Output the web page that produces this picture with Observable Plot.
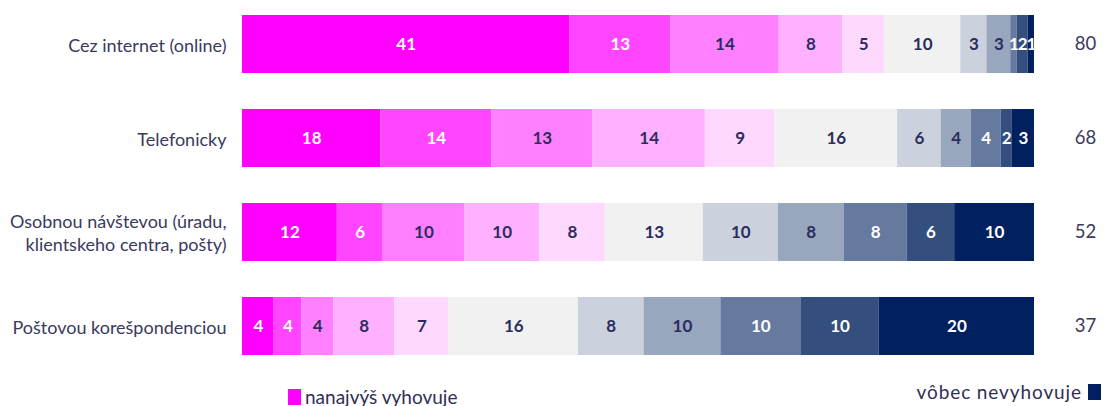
<!DOCTYPE html>
<html>
<head>
<meta charset="utf-8">
<script src="https://cdn.jsdelivr.net/npm/d3@7"></script>
<script src="https://cdn.jsdelivr.net/npm/@observablehq/plot@0.6"></script>
<style>
  html, body { margin: 0; padding: 0; background: #fff; }
  body { width: 1104px; height: 406px; overflow: hidden; font-family: Lato, "Noto Sans", sans-serif; }
  #legend { position: relative; height: 36px; width: 1104px; font-size: 19px; line-height: 19px; color: #2f2f55; }
  #legend .item { position: absolute; display: flex; align-items: center; white-space: nowrap; }
  #legend .sw { display: inline-block; width: 13px; height: 16px; }
</style>
</head>
<body>
<div id="chart"></div>
<div id="legend"></div>
<script>
const categories = [
  "Cez internet (online)",
  "Telefonicky",
  "Osobnou návštevou (úradu,\nklientskeho centra, pošty)",
  "Poštovou korešpondenciou"
];
const levels = ["10", "9", "8", "7", "6", "5", "4", "3", "2", "1", "0"];
const levelColors = ["#ff00ff", "#ff45ff", "#ff80ff", "#ffb1ff", "#ffd8ff", "#f1f1f1", "#cbd2de", "#98a6be", "#66799e", "#344e7e", "#00205f"];
const labelColors = ["#ffffff", "#ffffff", "#2b2d5e", "#2b2d5e", "#2b2d5e", "#2b2d5e", "#2b2d5e", "#2b2d5e", "#ffffff", "#ffffff", "#ffffff"];

const onlineShares    = [41.3, 12.7, 13.7, 8.0, 5.3, 9.6, 3.3, 3.0, 0.8, 1.4, 0.8];
const onlineLabels    = [41, 13, 14, 8, 5, 10, 3, 3, 1, 2, 1];
const phoneShares     = [17.5, 14.0, 12.8, 14.2, 8.8, 15.5, 5.5, 3.8, 3.8, 1.4, 2.8];
const phoneLabels     = [18, 14, 13, 14, 9, 16, 6, 4, 4, 2, 3];
const visitShares     = [12.0, 5.8, 10.3, 9.5, 8.3, 12.4, 9.5, 8.3, 8.0, 6.0, 10.1];
const visitLabels     = [12, 6, 10, 10, 8, 13, 10, 8, 8, 6, 10];
const postShares      = [4.0, 3.5, 4.0, 7.7, 6.9, 16.3, 8.3, 9.7, 10.1, 9.9, 19.6];
const postLabels      = [4, 4, 4, 8, 7, 16, 8, 10, 10, 10, 20];
const meanScores      = [80, 68, 52, 37];

const legendLeft = "nanajvýš vyhovuje";
const legendRight = "vôbec nevyhovuje";

const sharesByCat = [onlineShares, phoneShares, visitShares, postShares];
const labelsByCat = [onlineLabels, phoneLabels, visitLabels, postLabels];

const rows = [];
categories.forEach((cat, ci) => {
  levels.forEach((lev, li) => {
    rows.push({cat, level: lev, li, value: sharesByCat[ci][li], label: String(labelsByCat[ci][li])});
  });
});
const means = categories.map((cat, i) => ({cat, mean: String(meanScores[i])}));

const chart = Plot.plot({
  width: 1104,
  height: 370,
  marginLeft: 242,
  marginRight: 70,
  marginTop: 5,
  marginBottom: 5,
  style: {fontFamily: "Lato, 'Noto Sans', sans-serif", background: "#fff"},
  x: {axis: null, domain: [0, 1]},
  y: {axis: null, domain: categories, paddingInner: 0.387, paddingOuter: 0.1},
  color: {domain: levels, range: levelColors},
  marks: [
    Plot.barX(rows, Plot.stackX({offset: "normalize", order: null, x: "value", y: "cat", fill: "level"})),
    Plot.text(rows, Plot.stackX({offset: "normalize", order: null, x: "value", y: "cat", text: "label",
      fill: d => labelColors[d.li], fontSize: 17, fontWeight: 700})),
    Plot.text(categories, {y: d => d, frameAnchor: "left", dx: -16, textAnchor: "end",
      fontSize: 18, fill: "#3a3a5c", lineHeight: 1.28}),
    Plot.text(means, {y: "cat", text: "mean", frameAnchor: "right", dx: 51, textAnchor: "middle",
      fontSize: 18.5, fill: "#3a3a5c"})
  ]
});
document.getElementById("chart").appendChild(chart);

const legend = document.getElementById("legend");
legend.innerHTML =
  `<div class="item" style="left:288px; top:17px;"><span class="sw" style="background:${levelColors[0]}"></span><span style="margin-left:4px">${legendLeft}</span></div>` +
  `<div class="item" style="right:3px; top:12px;"><span style="margin-right:6px; letter-spacing:0.9px">${legendRight}</span><span class="sw" style="background:${levelColors[10]}"></span></div>`;
</script>
</body>
</html>
